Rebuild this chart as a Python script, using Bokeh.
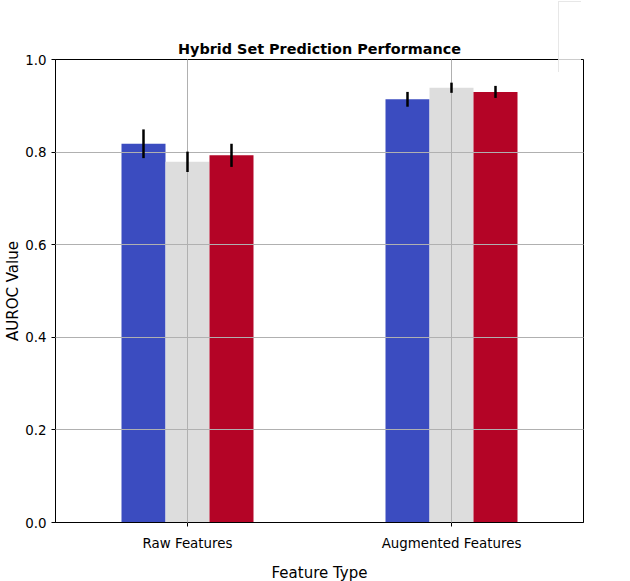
from bokeh.plotting import figure
from bokeh.layouts import column
from bokeh.models import (ColumnDataSource, FactorRange, Legend, LegendItem, FixedTicker,
                          PrintfTickFormatter)
from bokeh.transform import dodge
from bokeh.embed import file_html
from bokeh.resources import INLINE

categories = ["Raw Features", "Augmented Features"]
series = ["Target", "Context", "Combined"]
target = [0.818, 0.914]
target_err = [0.031, 0.016]
context = [0.779, 0.939]
context_err = [0.022, 0.011]
combined = [0.793, 0.930]
combined_err = [0.025, 0.013]
colors = ["#3b4cc0", "#dddddd", "#b40426"]
y_ticks = [0.0, 0.2, 0.4, 0.6, 0.8, 1.0]

FONT = "DejaVu Sans"
FRAME_W, FRAME_H = 528, 463

p = figure(x_range=FactorRange(*categories), y_range=(0, 1.0),
           frame_width=FRAME_W, frame_height=FRAME_H,
           output_backend="svg", toolbar_location=None,
           min_border_left=55, min_border_right=47, min_border_top=59, min_border_bottom=55)

values = [target, context, combined]
errors = [target_err, context_err, combined_err]
offsets = [-1 / 6, 0.0, 1 / 6]

renderers = []
for name, vals, errs, off, col in zip(series, values, errors, offsets, colors):
    src = ColumnDataSource(dict(
        cat=categories, val=vals,
        lo=[v - e for v, e in zip(vals, errs)],
        hi=[v + e for v, e in zip(vals, errs)],
    ))
    r = p.vbar(x=dodge("cat", off, range=p.x_range), top="val", width=1 / 6,
               source=src, fill_color=col, line_color=None)
    renderers.append(r)
    p.segment(x0=dodge("cat", off, range=p.x_range), y0="lo",
              x1=dodge("cat", off, range=p.x_range), y1="hi",
              source=src, line_color="black", line_width=2.5, level="annotation")

# title
p.title.text = "Hybrid Set Prediction Performance"
p.title.align = "center"
p.title.text_font = FONT
p.title.text_font_style = "bold"
p.title.text_font_size = "14.4px"
p.title.text_color = "black"
p.title.standoff = 6

# axes
p.xaxis.axis_label = "Feature Type"
p.yaxis.axis_label = "AUROC Value"
for ax in (p.xaxis[0], p.yaxis[0]):
    ax.axis_label_text_font = FONT
    ax.axis_label_text_font_style = "normal"
    ax.axis_label_text_font_size = "15px"
    ax.axis_label_text_color = "black"
    ax.major_label_text_font = FONT
    ax.major_label_text_font_size = "13.4px"
    ax.major_label_text_color = "black"
    ax.axis_line_color = "black"
    ax.major_tick_line_color = "black"
    ax.major_tick_out = 4
    ax.major_tick_in = 0
    ax.minor_tick_line_color = None
p.yaxis.ticker = FixedTicker(ticks=y_ticks)
p.yaxis.formatter = PrintfTickFormatter(format="%.1f")
p.yaxis.major_label_standoff = 5
p.yaxis.axis_label_standoff = 0
p.xaxis.major_label_orientation = "horizontal"
p.xaxis.major_label_standoff = 9
p.xaxis.axis_label_standoff = 10

# grid drawn over bars
for g in (p.xgrid[0], p.ygrid[0]):
    g.grid_line_color = "#b0b0b0"
    g.grid_line_width = 1
    g.level = "guide"

p.outline_line_color = "black"
p.outline_line_width = 1
p.outline_line_alpha = 1.0
p.background_fill_color = "white"
p.border_fill_color = "white"
p.border_fill_alpha = 0.0

# legend lives on a small overlay figure so it can overhang the plot frame
lf = figure(width=126, height=72, x_range=(0, 1), y_range=(0, 1),
            output_backend="svg", toolbar_location=None,
            x_axis_location=None, y_axis_location=None, min_border=0)
lf.grid.visible = False
lf.outline_line_color = None
lf.background_fill_alpha = 0
lf.border_fill_alpha = 0
items = []
for s, col in zip(series, colors):
    dr = lf.vbar(x=[], top=[], width=0.1, fill_color=col, line_color=None)
    items.append(LegendItem(label=s, renderers=[dr]))
legend = Legend(items=items, location="top_left")
legend.label_text_font = FONT
legend.label_text_font_size = "14px"
legend.label_text_color = "black"
legend.glyph_width = 30
legend.glyph_height = 10
legend.label_height = 20
legend.label_standoff = 11
legend.spacing = 0
legend.padding = 5
legend.margin = 1
legend.border_line_color = "#d0d0d0"
legend.border_line_width = 1
legend.background_fill_color = "white"
legend.background_fill_alpha = 0.8
lf.add_layout(legend)
lf.styles = {"position": "absolute", "left": "502px", "top": "0px", "z-index": "10"}

layout = column(p, lf)
open("out.html", "w").write(file_html(layout, INLINE))
